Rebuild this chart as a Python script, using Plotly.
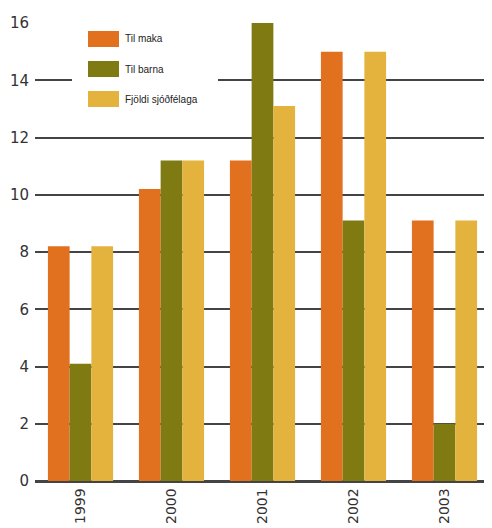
import plotly.graph_objects as go

years = ["1999", "2000", "2001", "2002", "2003"]
series_names = ["Til maka", "Til barna", "Fjöldi sjóðfélaga"]
til_maka = [8.2, 10.2, 11.2, 15.0, 9.1]
til_barna = [4.1, 11.2, 16.0, 9.1, 2.0]
fjoldi = [8.2, 11.2, 13.1, 15.0, 9.1]
y_ticks = [0, 2, 4, 6, 8, 10, 12, 14, 16]
colors = ["#E2711F", "#7F7A12", "#E3B33E"]

OFF = 8  # default page body margin
W, H = 492 - OFF, 528 - OFF
ML, MR, MT, MB = 35 - OFF, 2, 23 - OFF, 47
PW, PH = W - ML - MR, H - MT - MB

fig = go.Figure()
for name, vals, col in zip(series_names, [til_maka, til_barna, fjoldi], colors):
    fig.add_trace(go.Bar(x=years, y=vals, name=name, marker=dict(color=col, line=dict(width=0)),
                         showlegend=False))

def px(x):
    return (x - OFF - ML) / PW

def py(y):
    return (H + OFF - MB - y) / PH

shapes = []
annotations = []
# legend background box
shapes.append(dict(type="rect", xref="paper", yref="paper", x0=px(72), x1=px(218), y0=py(125), y1=py(26),
                   fillcolor="white", line=dict(width=0), layer="above"))
for i, (name, col) in enumerate(zip(series_names, colors)):
    cy = 39 + i * 30
    shapes.append(dict(type="rect", xref="paper", yref="paper", x0=px(88), x1=px(119),
                       y0=py(cy + 8), y1=py(cy - 8), fillcolor=col, line=dict(width=0), layer="above"))
    annotations.append(dict(xref="paper", yref="paper", x=px(123), y=py(cy), text=name, showarrow=False,
                            xanchor="left", yanchor="middle",
                            font=dict(family="Liberation Sans Narrow, Arial Narrow, Liberation Sans, sans-serif",
                                      size=10, color="#222")))

fig.update_layout(
    width=W, height=H,
    margin=dict(l=ML, r=MR, t=MT, b=MB, autoexpand=False),
    paper_bgcolor="white", plot_bgcolor="white",
    barmode="group", bargap=0.284, bargroupgap=0,
    shapes=shapes, annotations=annotations,
    font=dict(family="DejaVu Sans, sans-serif", size=14, color="#333"),
)
fig.update_xaxes(type="category", range=[-0.5, 4.5], tickangle=-90, showgrid=False, automargin=False,
                 showline=True, linecolor="#444", linewidth=1.5, ticks="",
                 tickfont=dict(size=14, color="#333"))
fig.update_yaxes(range=[0, 16], tickvals=y_ticks, showgrid=True, gridcolor="#444", gridwidth=1.5,
                 automargin=False,
                 zeroline=True, zerolinecolor="#444", zerolinewidth=1.5, showline=False, ticks="",
                 ticklabelstandoff=5, tickfont=dict(size=15, color="#333"))

fig.write_html("out.html")
